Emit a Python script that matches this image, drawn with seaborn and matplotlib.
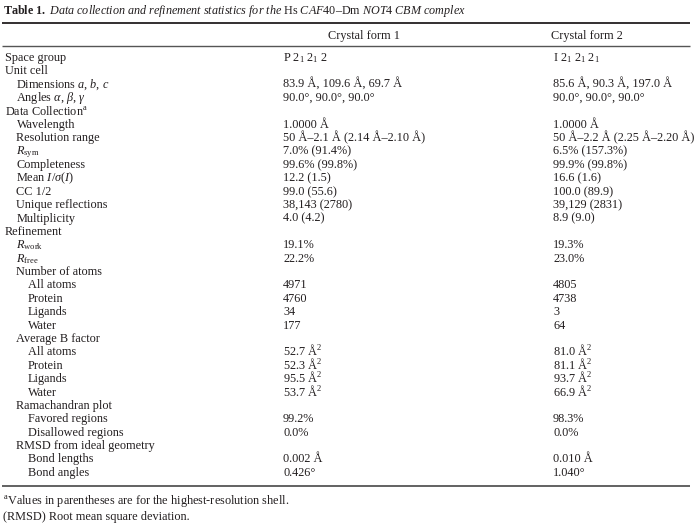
import numpy as np
import matplotlib
matplotlib.use("Agg")
import matplotlib.pyplot as plt
import seaborn as sns

# table contents
title = (r"$\mathbf{Table\ 1.}$ "
         r"$\mathit{Data\ collection\ and\ refinement\ statistics\ for\ the}$ Hs "
         r"$\mathit{CAF40}$–Dm $\mathit{NOT4\ CBM\ complex}$")
col_headers = ["Crystal form 1", "Crystal form 2"]

row_labels = ["Space group", "Unit cell", r"Dimensions $a$, $b$, $c$",
              r"Angles $\alpha$, $\beta$, $\gamma$", r"Data Collection$^{\rm a}$",
              "Wavelength", "Resolution range", r"$R_{\rm sym}$", "Completeness",
              r"Mean $I/\sigma(I)$", "CC 1/2", "Unique reflections", "Multiplicity",
              "Refinement", r"$R_{\rm work}$", r"$R_{\rm free}$", "Number of atoms",
              "All atoms", "Protein", "Ligands", "Water", "Average B factor",
              "All atoms", "Protein", "Ligands", "Water", "Ramachandran plot",
              "Favored regions", "Disallowed regions", "RMSD from ideal geometry",
              "Bond lengths", "Bond angles"]
indent = [0, 0, 1, 1, 0, 1, 1, 1, 1, 1, 1, 1, 1, 0, 1, 1, 1, 2, 2, 2, 2, 1,
          2, 2, 2, 2, 1, 2, 2, 1, 2, 2]

form1 = [r"P $2_1$ $2_1$ 2", "", "83.9 Å, 109.6 Å, 69.7 Å", "90.0°, 90.0°, 90.0°", "",
         "1.0000 Å", "50 Å–2.1 Å (2.14 Å–2.10 Å)", "7.0% (91.4%)", "99.6% (99.8%)",
         "12.2 (1.5)", "99.0 (55.6)", "38,143 (2780)", "4.0 (4.2)", "",
         "19.1%", "22.2%", "", "4971", "4760", "34", "177", "",
         r"52.7 Å$^2$", r"52.3 Å$^2$", r"95.5 Å$^2$", r"53.7 Å$^2$", "",
         "99.2%", "0.0%", "", "0.002 Å", "0.426°"]
form2 = [r"I $2_1$ $2_1$ $2_1$", "", "85.6 Å, 90.3 Å, 197.0 Å", "90.0°, 90.0°, 90.0°", "",
         "1.0000 Å", "50 Å–2.2 Å (2.25 Å–2.20 Å)", "6.5% (157.3%)", "99.9% (99.8%)",
         "16.6 (1.6)", "100.0 (89.9)", "39,129 (2831)", "8.9 (9.0)", "",
         "19.3%", "23.0%", "", "4805", "4738", "3", "64", "",
         r"81.0 Å$^2$", r"81.1 Å$^2$", r"93.7 Å$^2$", r"66.9 Å$^2$", "",
         "98.3%", "0.0%", "", "0.010 Å", "1.040°"]

footnotes = [r"$^{\rm a}$Values in parentheses are for the highest-resolution shell.",
             "(RMSD) Root mean square deviation."]

sns.set_theme(style="white")
plt.rcParams['font.family'] = ['Liberation Serif', 'DejaVu Serif']
plt.rcParams['mathtext.fontset'] = 'custom'
plt.rcParams['mathtext.rm'] = 'Liberation Serif'
plt.rcParams['mathtext.it'] = 'Liberation Serif:italic'
plt.rcParams['mathtext.bf'] = 'Liberation Serif:bold'

ink = '#231f20'
fs = 8.8

fig = plt.figure(figsize=(6.96, 5.32), dpi=100)
ax = fig.add_axes([0, 0, 1, 1])
ax.set_xlim(0, 696)
ax.set_ylim(532, 0)
ax.axis('off')

# layout
x0, dx_indent = 5, 11.5
col_x = [283, 553]
head_x = [364, 587]
y_first, dy = 61, 13.38

ax.text(3, 14, title, fontsize=8.75, color=ink, va='baseline')
ax.hlines(22.5, 2, 690, color=ink, lw=1.3)
for hx, h in zip(head_x, col_headers):
    ax.text(hx, 39, h, fontsize=fs, color=ink, va='baseline', ha='center')
ax.hlines(46, 2, 690, color='#555555', lw=1.0)

for i, (lab, lev) in enumerate(zip(row_labels, indent)):
    y = y_first + i * dy
    ax.text(x0 + lev * dx_indent, y, lab, fontsize=fs, color=ink, va='baseline')
    for cx, vals in zip(col_x, [form1, form2]):
        if vals[i]:
            ax.text(cx, y, vals[i], fontsize=fs, color=ink, va='baseline')

y_end = y_first + (len(row_labels) - 1) * dy
ax.hlines(y_end + 10, 2, 690, color='#555555', lw=1.3)
for j, note in enumerate(footnotes):
    ax.text(3, y_end + 28 + j * 16.5, note, fontsize=fs, color=ink, va='baseline')

fig.savefig("out.png", dpi=100, facecolor='white')
